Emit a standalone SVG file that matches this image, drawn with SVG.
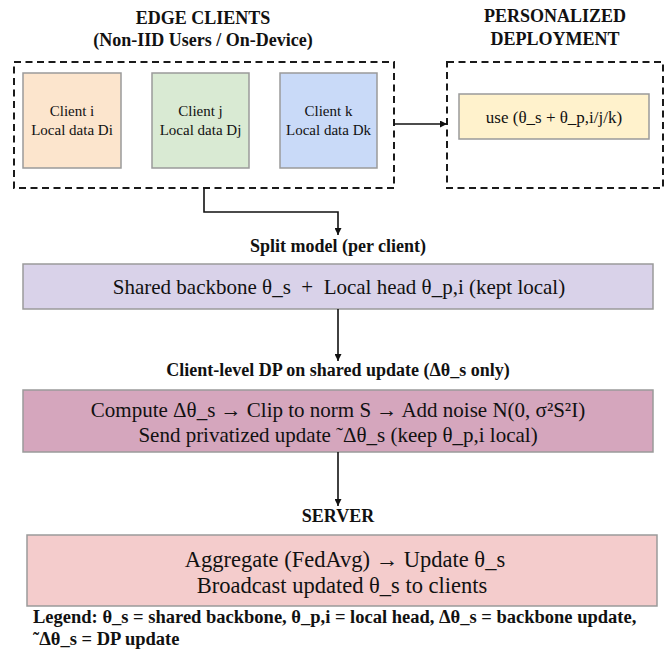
<svg xmlns="http://www.w3.org/2000/svg" width="672" height="662" viewBox="0 0 672 662">
  <style>
    text { font-family: "Liberation Serif", "Times New Roman", serif; fill: #111; }
    .title { font-size: 18px; font-weight: bold; text-anchor: middle; }
    .label { font-size: 18px; font-weight: bold; text-anchor: middle; }
    .client { font-size: 15px; text-anchor: middle; }
    .body { font-size: 21px; text-anchor: middle; white-space: pre; }
    .server { font-size: 22.5px; text-anchor: middle; }
    .legend { font-size: 18.5px; font-weight: bold; }
    .group { fill: none; stroke: #1a1a1a; stroke-width: 2; stroke-dasharray: 7 4.5; }
    .box { stroke: #9a9a9a; stroke-width: 1.5; }
    .conn { fill: none; stroke: #111; stroke-width: 1.6; }
  </style>
  <defs>
    <marker id="arrow" viewBox="0 0 10 10" refX="10" refY="5" markerWidth="7" markerHeight="7" markerUnits="userSpaceOnUse" orient="auto">
      <path d="M0,0 L10,5 L0,10 z" fill="#111"/>
    </marker>
  </defs>

  <rect width="672" height="662" fill="#ffffff"/>

  <!-- Edge clients group -->
  <g id="edge-clients">
    <text class="title" x="203" y="24">EDGE CLIENTS</text>
    <text class="title" x="203" y="46">(Non-IID Users / On-Device)</text>
    <rect class="group" x="14" y="62" width="380" height="126"/>
  </g>

  <g id="client-i">
    <rect class="box" x="23" y="73" width="98" height="95" fill="#fce5cd"/>
    <text class="client" x="72" y="116">Client i</text>
    <text class="client" x="72" y="135">Local data Di</text>
  </g>

  <g id="client-j">
    <rect class="box" x="152" y="73" width="97" height="95" fill="#d9ead3"/>
    <text class="client" x="200.5" y="116">Client j</text>
    <text class="client" x="200.5" y="135">Local data Dj</text>
  </g>

  <g id="client-k">
    <rect class="box" x="280" y="73" width="97" height="95" fill="#c9daf8"/>
    <text class="client" x="328.5" y="116">Client k</text>
    <text class="client" x="328.5" y="135">Local data Dk</text>
  </g>

  <!-- Personalized deployment group -->
  <g id="deployment">
    <text class="title" x="555" y="22">PERSONALIZED</text>
    <text class="title" x="555" y="45">DEPLOYMENT</text>
    <rect class="group" x="447" y="62" width="216" height="126"/>
    <rect class="box" x="459" y="94" width="190" height="45" fill="#fff2cc"/>
    <text class="client" style="font-size:17px" x="554" y="123">use (θ_s + θ_p,i/j/k)</text>
  </g>

  <!-- Split model -->
  <g id="split-model">
    <text class="label" x="338" y="252">Split model (per client)</text>
    <rect class="box" x="23" y="264" width="630" height="45" fill="#d9d2e9"/>
    <text class="body" x="339" y="294">Shared backbone θ_s  +  Local head θ_p,i (kept local)</text>
  </g>

  <!-- Client-level DP -->
  <g id="client-dp">
    <text class="label" x="338" y="376">Client-level DP on shared update (Δθ_s only)</text>
    <rect class="box" x="23" y="390" width="630" height="62" fill="#d5a6bd"/>
    <text class="body" x="338" y="417">Compute Δθ_s → Clip to norm S → Add noise N(0, σ²S²I)</text>
    <text class="body" x="338" y="442">Send privatized update ˜Δθ_s (keep θ_p,i local)</text>
  </g>

  <!-- Server -->
  <g id="server">
    <text class="label" x="338" y="522">SERVER</text>
    <rect class="box" x="27" y="535" width="630" height="71" fill="#f4cccc"/>
    <text class="server" x="345" y="567">Aggregate (FedAvg) → Update θ_s</text>
    <text class="server" x="342" y="593">Broadcast updated θ_s to clients</text>
  </g>

  <!-- Legend -->
  <g id="legend">
    <text class="legend" x="33" y="623">Legend: θ_s = shared backbone, θ_p,i = local head, Δθ_s = backbone update,</text>
    <text class="legend" x="33" y="645">˜Δθ_s = DP update</text>
  </g>

  <!-- Connectors -->
  <g id="connectors">
    <path class="conn" d="M394,124 H447" marker-end="url(#arrow)"/>
    <path class="conn" d="M204,188 V212 H338 V235" marker-end="url(#arrow)"/>
    <path class="conn" d="M338,309 V361" marker-end="url(#arrow)"/>
    <path class="conn" d="M338,452 V506" marker-end="url(#arrow)"/>
  </g>
</svg>
